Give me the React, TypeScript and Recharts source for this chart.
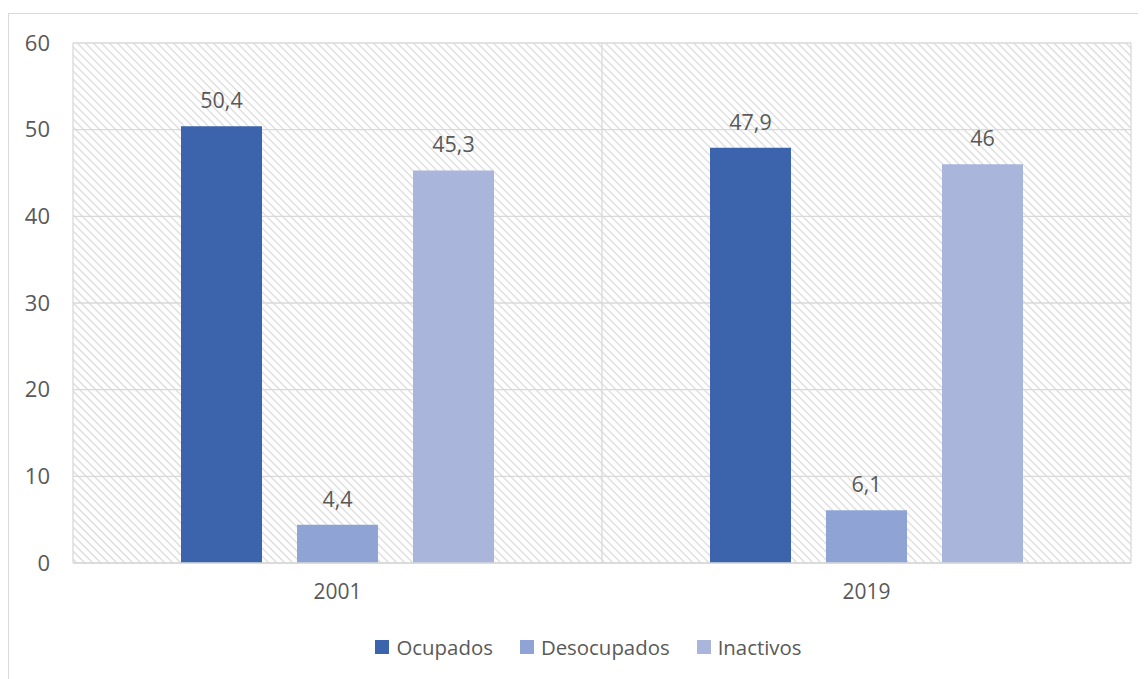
import React from 'react';
import { BarChart, Bar, XAxis, YAxis, CartesianGrid, Legend, LabelList } from 'recharts';

const years = ['2001', '2019'];
const ocupados = [50.4, 47.9];
const desocupados = [4.4, 6.1];
const inactivos = [45.3, 46];
const yTicks = [0, 10, 20, 30, 40, 50, 60];

const data = years.map((year, i) => ({
  year,
  ocupados: ocupados[i],
  desocupados: desocupados[i],
  inactivos: inactivos[i],
}));

const font = '"Open Sans", "Liberation Sans", sans-serif';
const textColor = '#595959';

const fmt = (v: unknown) => String(v).replace('.', ',');

const LegendContent = ({ payload }: any) => (
  <div style={{ display: 'flex', justifyContent: 'center', height: 26, alignItems: 'center', paddingLeft: 24 }}>
    {(payload || []).map((item: any, i: number, arr: any[]) => (
      <div key={item.value} style={{ display: 'flex', alignItems: 'center', marginRight: i < arr.length - 1 ? 27 : 0 }}>
        <span style={{ width: 14, height: 14, background: item.color, display: 'inline-block', marginRight: 7 }} />
        <span style={{ color: textColor, fontSize: 20.4, fontFamily: font }}>{item.value}</span>
      </div>
    ))}
  </div>
);

const App: React.FC = () => {
  return (
    <div
      style={{
        position: 'relative',
        width: 1138,
        height: 670,
        marginTop: 5,
        borderTop: '1px solid #D9D9D9',
        borderLeft: '1px solid #D9D9D9',
        boxSizing: 'border-box',
        fontFamily: font,
      }}
    >
      <BarChart
        width={1137}
        height={668}
        data={data}
        margin={{ top: 29, right: 15, left: 13, bottom: 53 }}
        barCategoryGap={108}
        barGap={35}
        style={{ position: 'absolute', left: 0, top: 0 }}
      >
        <defs>
          <pattern id="hatch" width="5.66" height="5.66" patternUnits="userSpaceOnUse" patternTransform="rotate(45)">
            <rect width="5.66" height="5.66" fill="#ffffff" />
            <line x1="0" y1="0.6" x2="5.66" y2="0.6" stroke="#D4D4D4" strokeWidth="1.1" />
          </pattern>
        </defs>
        <CartesianGrid
          fill="url(#hatch)"
          stroke="#D9D9D9"
          strokeWidth={1.3}
          verticalCoordinatesGenerator={({ offset }: any) => [
            offset.left,
            offset.left + offset.width / 2,
            offset.left + offset.width,
          ]}
        />
        <XAxis
          dataKey="year"
          axisLine={{ stroke: '#D9D9D9', strokeWidth: 1.3 }}
          tickLine={false}
          tick={{ fill: textColor, fontSize: 21, fontFamily: font }}
          tickMargin={15}
          height={40}
        />
        <YAxis
          domain={[0, 60]}
          ticks={yTicks}
          axisLine={false}
          tickLine={false}
          tick={{ fill: textColor, fontSize: 22, fontFamily: font }}
          tickMargin={17}
          width={51}
        />
        <Legend
          verticalAlign="bottom"
          itemSorter={null as any}
          content={<LegendContent />}
          wrapperStyle={{ bottom: 22, height: 26 }}
        />
        <Bar dataKey="ocupados" name="Ocupados" fill="#3B64AD" barSize={81} isAnimationActive={false}>
          <LabelList dataKey="ocupados" position="top" offset={18} formatter={fmt} fill={textColor} fontSize={21.5} fontFamily={font} />
        </Bar>
        <Bar dataKey="desocupados" name="Desocupados" fill="#8FA3D5" barSize={81} isAnimationActive={false}>
          <LabelList dataKey="desocupados" position="top" offset={18} formatter={fmt} fill={textColor} fontSize={21.5} fontFamily={font} />
        </Bar>
        <Bar dataKey="inactivos" name="Inactivos" fill="#A9B5DA" barSize={81} isAnimationActive={false}>
          <LabelList dataKey="inactivos" position="top" offset={18} formatter={fmt} fill={textColor} fontSize={21.5} fontFamily={font} />
        </Bar>
      </BarChart>
    </div>
  );
};

export default App;
